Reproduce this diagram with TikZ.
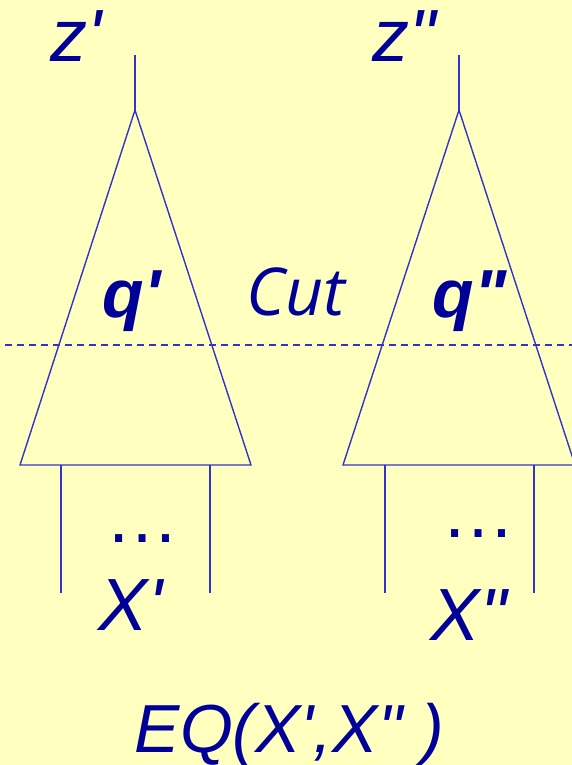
\documentclass[tikz,border=0pt]{standalone}
\usepackage{fontspec}
\setmainfont{Liberation Sans}
\newfontfamily\cutfont{Open Sans}
\usepackage{xcolor}
\definecolor{paper}{RGB}{255,255,192}
\definecolor{ink}{RGB}{0,0,153}
\definecolor{wire}{RGB}{51,51,204}

\begin{document}
\begin{tikzpicture}[x=1pt,y=-1pt,line width=1.4pt,
  lbl/.style={anchor=base west,inner sep=0pt,text=ink,font=\fontsize{74}{80}\selectfont\itshape},
  bold lbl/.style={lbl,font=\fontsize{68}{74}\selectfont\bfseries\itshape}]
\useasboundingbox (0,0) rectangle (572,765);
\fill[paper](0,0) rectangle (572,765);
\clip (0,0) rectangle (572,765);
% left tree
\coordinate (top1) at (135,55);
\coordinate (apex1) at (135,110);
\coordinate (bl1) at (20,465);
\coordinate (br1) at (251,465);
\draw[wire](top1)--(apex1);
\draw[wire](apex1)--(br1)--(bl1)--cycle;
\draw[wire](61,465)--(61,593);
\draw[wire](210,465)--(210,593);
% right tree
\coordinate (top2) at (459,55);
\coordinate (apex2) at (459,110);
\coordinate (bl2) at (343,465);
\coordinate (br2) at (575,465);
\draw[wire](top2)--(apex2);
\draw[wire](apex2)--(br2)--(bl2)--cycle;
\draw[wire](385,465)--(385,593);
\draw[wire](534,465)--(534,593);
% the cut
\draw[wire,dash pattern=on 7pt off 5pt](5,345)--(572,345);
\node[lbl](z1) at (50,62){z\textquotesingle};
\node[lbl](z2) at (372,62){z\textquotedbl};
\node[bold lbl](q1) at (102,317){q\textquotesingle};
\node[bold lbl](q2) at (432,317){q\textquotedbl};
\node[lbl,font=\fontsize{66}{72}\selectfont\cutfont\itshape](cut) at (246,315){Cut};
\node[lbl,font=\fontsize{74}{80}\selectfont](dots1) at (105,542){…};
\node[lbl,font=\fontsize{74}{80}\selectfont](dots2) at (441,537){…};
\node[lbl](x1) at (98,630){X\textquotesingle};
\node[lbl](x2) at (430,640){X\textquotedbl};
\node[lbl,font=\fontsize{68}{74}\selectfont\itshape](eq) at (134,752){EQ(X\textquotesingle,X\textquotedbl{} )};
\end{tikzpicture}
\end{document}
